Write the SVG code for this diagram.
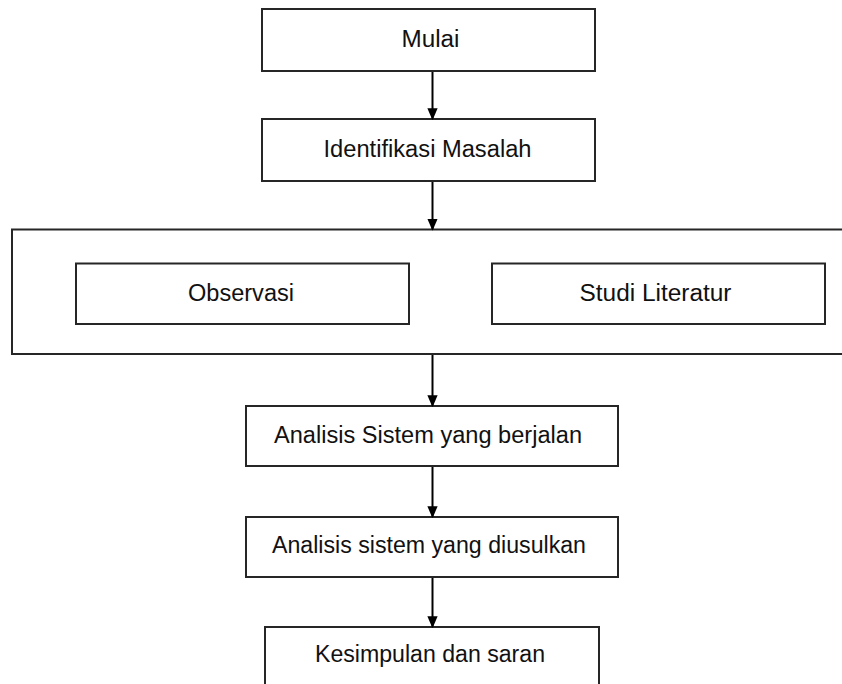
<svg xmlns="http://www.w3.org/2000/svg" width="842" height="684" viewBox="0 0 842 684">
<style>
.box{fill:#fff;stroke:#262626;stroke-width:2}
.lbl{font-family:"Liberation Sans",Arial,sans-serif;font-size:23px;fill:#111;text-anchor:middle}
.con{stroke:#000;stroke-width:2;fill:none}
</style>
<defs>
<marker id="arr" markerUnits="userSpaceOnUse" markerWidth="12" markerHeight="14" refX="12" refY="6" orient="auto" viewBox="0 0 14 12">
<path d="M0,0 L14,6 L0,12 Z" fill="#000"/>
</marker>
</defs>
<rect width="842" height="684" fill="#fff"/>
<g id="container">
<rect class="box" x="12" y="229.5" width="840" height="124.5"/>
</g>
<g id="mulai">
<rect class="box" x="262" y="9" width="333" height="62"/>
<text class="lbl" x="430.5" y="47" textLength="58" lengthAdjust="spacingAndGlyphs">Mulai</text>
</g>
<g id="identifikasi">
<rect class="box" x="262" y="119" width="333" height="62"/>
<text class="lbl" x="427.5" y="157" textLength="208" lengthAdjust="spacingAndGlyphs">Identifikasi Masalah</text>
</g>
<g id="observasi">
<rect class="box" x="76" y="263.5" width="333" height="60.5"/>
<text class="lbl" x="241" y="300.5" textLength="106" lengthAdjust="spacingAndGlyphs">Observasi</text>
</g>
<g id="studi">
<rect class="box" x="492" y="263.5" width="333" height="60.5"/>
<text class="lbl" x="655.5" y="300.5" textLength="152" lengthAdjust="spacingAndGlyphs">Studi Literatur</text>
</g>
<g id="analisis1">
<rect class="box" x="246" y="406" width="372" height="60"/>
<text class="lbl" x="428" y="443" textLength="308" lengthAdjust="spacingAndGlyphs">Analisis Sistem yang berjalan</text>
</g>
<g id="analisis2">
<rect class="box" x="246" y="517" width="372" height="60"/>
<text class="lbl" x="429" y="553" textLength="314" lengthAdjust="spacingAndGlyphs">Analisis sistem yang diusulkan</text>
</g>
<g id="kesimpulan">
<rect class="box" x="265" y="627" width="334" height="70"/>
<text class="lbl" x="430" y="662" textLength="230" lengthAdjust="spacingAndGlyphs">Kesimpulan dan saran</text>
</g>
<g id="connectors">
<line class="con" x1="432.5" y1="72" x2="432.5" y2="118.5" marker-end="url(#arr)"/>
<line class="con" x1="432.5" y1="182" x2="432.5" y2="229" marker-end="url(#arr)"/>
<line class="con" x1="432.5" y1="355" x2="432.5" y2="405.5" marker-end="url(#arr)"/>
<line class="con" x1="432.5" y1="467" x2="432.5" y2="516.5" marker-end="url(#arr)"/>
<line class="con" x1="432.5" y1="578" x2="432.5" y2="626.5" marker-end="url(#arr)"/>
</g>
</svg>
